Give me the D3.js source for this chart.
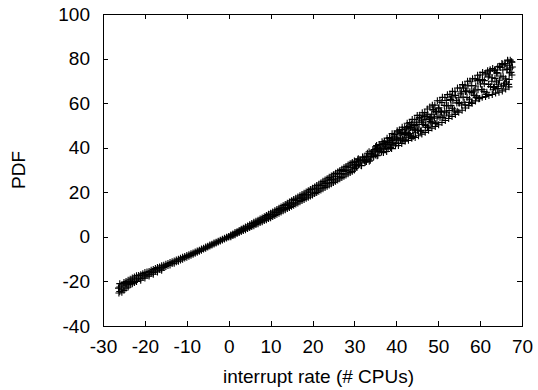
<!DOCTYPE html>
<html>
<head>
<meta charset="utf-8">
<script src="https://cdn.jsdelivr.net/npm/d3@7"></script>
<style>
  body { margin: 0; background: #fff; }
  svg { display: block; }
  text { font-family: "Liberation Sans", Arial, Helvetica, sans-serif; fill: #000; }
</style>
</head>
<body>
<div id="chart"></div>
<script>
// axis ticks
const xTicks = [-30, -20, -10, 0, 10, 20, 30, 40, 50, 60, 70];
const yTicks = [-40, -20, 0, 20, 40, 60, 80, 100];

// points, [interrupt rate, PDF]
const lowBand = [
    [-26.3, -23], [-26.2, -25.2], [-26, -24.5], [-26, -22.5], [-26, -21], [-25.5, -23.5], [-25.5, -21.5], [-25.5, -24.8],
    [-25, -22], [-25, -20.5], [-25, -24], [-24.5, -23], [-24.5, -21], [-24.5, -20],
    [-24, -21.5], [-24, -19.5], [-24, -22.5], [-23.5, -20.5], [-23.5, -19], [-23.5, -21.5],
    [-23, -20], [-23, -18.5], [-23, -21], [-22.5, -19.5], [-22.5, -18], [-22.5, -20.5],
    [-22, -19], [-22, -17.5], [-22, -20], [-21.5, -18.5], [-21.5, -17.3],
    [-21, -18.8], [-21, -17], [-21, -19.5], [-20.5, -18], [-20.5, -16.5],
    [-20, -17.5], [-20, -16], [-20, -18.5], [-19.5, -17], [-19.5, -15.8],
    [-19, -16.8], [-19, -15.5], [-19, -17.6], [-18.5, -16.2], [-18.5, -15],
    [-18, -16], [-18, -14.6], [-18, -16.8], [-17.5, -15.4], [-17.5, -14.2],
    [-17, -15], [-17, -13.8], [-17, -15.8], [-16.5, -14.5], [-16.5, -13.5],
    [-16, -14.3], [-16, -13], [-16, -15], [-15.5, -13.7], [-15.5, -12.7],
    [-15, -13.3], [-15, -12.3], [-14.5, -12.8], [-14.5, -12], [-14, -12.6], [-14, -11.5],
    [-13.5, -12], [-13.5, -11.2], [-13, -11.8], [-13, -10.8], [-12.5, -11.2], [-12.5, -10.4],
    [-12, -10.9], [-12, -10], [-11.5, -10.4], [-11.5, -9.6], [-11, -10], [-11, -9.2],
    [-10.5, -9.5], [-10.5, -8.8], [-10, -9.1], [-10, -8.4], [-9.5, -8.7], [-9.5, -8],
    [-9, -8.3], [-9, -7.6], [-8.5, -7.8], [-8.5, -7.2], [-8, -7.4], [-8, -6.8],
    [-7.5, -6.9], [-7.5, -6.4], [-7, -6.5], [-7, -6], [-6.5, -6], [-6.5, -5.5],
    [-6, -5.5], [-6, -5.1], [-5.5, -5.1], [-5.5, -4.6], [-5, -4.6], [-5, -4.2],
    [-4.5, -4.1], [-4.5, -3.7], [-4, -3.7], [-4, -3.3], [-3.5, -3.2], [-3.5, -2.8],
    [-3, -2.8], [-3, -2.4], [-2.5, -2.3], [-2.5, -2], [-2, -1.9], [-2, -1.5],
    [-1.5, -1.4], [-1.5, -1.1], [-1, -1], [-1, -0.6], [-0.5, -0.5], [-0.5, -0.2],
    [0, -0.1], [0, 0.2]
];

const midBand = [
    [0.5, 0.1], [0.5, 0.8], [0.5, 0.5], [1, 0.6], [1, 1.3], [1, 1.0], [1.5, 1.0], [1.5, 1.9], [1.5, 1.3],
    [2, 1.5], [2, 2.3], [2, 2.0], [2.5, 1.9], [2.5, 2.9], [2.5, 2.3], [3, 2.4], [3, 3.4], [3, 3.0],
    [3.5, 2.8], [3.5, 3.9], [3.5, 3.4], [4, 3.2], [4, 4.4], [4, 3.8], [4.5, 3.7], [4.5, 4.9], [4.5, 4.5],
    [5, 4.2], [5, 5.4], [5, 4.7], [5.5, 4.6], [5.5, 6.0], [5.5, 5.1], [6, 5.0], [6, 6.5], [6, 5.9],
    [6.5, 5.5], [6.5, 7.0], [6.5, 6.0], [7, 5.9], [7, 7.5], [7, 6.9], [7.5, 6.4], [7.5, 8.0], [7.5, 7.1],
    [8, 6.8], [8, 8.5], [8, 7.8], [8.5, 7.3], [8.5, 9.0], [8.5, 8.0], [9, 7.7], [9, 9.6], [9, 8.8],
    [9.5, 8.2], [9.5, 10.1], [9.5, 9.0], [10, 8.6], [10, 10.6], [10, 9.8], [10.5, 9.1], [10.5, 11.2], [10.5, 10.0],
    [11, 9.6], [11, 11.7], [11, 10.9], [11.5, 10.1], [11.5, 12.3], [11.5, 11.0], [12, 10.6], [12, 12.8], [12, 12.0],
    [12.5, 11.2], [12.5, 13.4], [12.5, 12.1], [13, 11.7], [13, 14.0], [13, 13.0], [13.5, 12.2], [13.5, 14.5], [13.5, 13.2],
    [14, 12.7], [14, 15.1], [14, 14.0], [14.5, 13.2], [14.5, 15.6], [14.5, 14.6], [15, 13.7], [15, 16.2], [15, 14.8],
    [15.5, 14.2], [15.5, 16.8], [15.5, 15.3], [16, 14.7], [16, 17.3], [16, 16.3], [16.5, 15.2], [16.5, 17.9], [16.5, 16.4],
    [17, 15.8], [17, 18.4], [17, 17.3], [17.5, 16.3], [17.5, 19.0], [17.5, 17.5], [18, 16.8], [18, 19.6], [18, 18.4],
    [18.5, 17.3], [18.5, 20.1], [18.5, 18.9], [19, 17.8], [19, 20.7], [19, 19.1], [19.5, 18.3], [19.5, 21.3], [19.5, 20.0],
    [20, 18.8], [20, 21.8], [20, 20.1], [20.5, 19.4], [20.5, 22.4], [20.5, 21.1], [21, 19.9], [21, 23.0], [21, 21.6],
    [21.5, 20.5], [21.5, 23.6], [21.5, 21.9], [22, 21.0], [22, 24.2], [22, 22.9], [22.5, 21.6], [22.5, 24.9], [22.5, 23.1],
    [23, 22.2], [23, 25.5], [23, 24.0], [23.5, 22.7], [23.5, 26.1], [23.5, 24.3], [24, 23.3], [24, 26.7], [24, 25.2],
    [24.5, 23.8], [24.5, 27.3], [24.5, 25.7], [25, 24.4], [25, 27.9], [25, 26.0], [25.5, 25.0], [25.5, 28.5], [25.5, 26.9],
    [26, 25.5], [26, 29.1], [26, 27.2], [26.5, 26.1], [26.5, 29.7], [26.5, 28.1], [27, 26.6], [27, 30.3], [27, 28.4],
    [27.5, 27.2], [27.5, 31.0], [27.5, 29.3], [28, 27.8], [28, 31.6], [28, 29.8], [28.5, 28.3], [28.5, 32.2], [28.5, 30.1],
    [29, 28.9], [29, 32.8], [29, 31.0], [29.5, 29.4], [29.5, 33.4], [29.5, 31.3], [30, 30.0], [30, 34.0], [30, 32.2]
];

const highBand = [
    [30.1, 30.6], [30.45, 33.6], [30.55, 32.3], [30.93, 35.0], [31.0, 32.2], [31.38, 34.1], [31.6, 32.0],
    [31.95, 35.8], [32.05, 34.4], [32.43, 34.0], [32.5, 35.8], [32.88, 33.8], [33.1, 37.5], [33.45, 35.8],
    [33.55, 33.9], [33.93, 37.3], [34.0, 36.0], [34.38, 38.6], [34.6, 36.0], [34.95, 38.1], [35.05, 40.4],
    [35.43, 36.4], [35.5, 39.7], [35.88, 38.4], [36.1, 41.4], [36.45, 38.3], [36.55, 40.2], [36.93, 37.8],
    [37.0, 42.0], [37.38, 40.7], [37.6, 39.8], [37.95, 42.4], [38.05, 39.5], [38.43, 44.1], [38.5, 41.7],
    [38.88, 39.6], [39.1, 43.5], [39.45, 42.2], [39.55, 44.9], [39.93, 41.9], [40.0, 44.0], [40.38, 47.1],
    [40.6, 42.0], [40.95, 46.3], [41.05, 44.3], [41.43, 48.1], [41.5, 43.9], [41.88, 46.5], [42.1, 43.4],
    [42.45, 48.8], [42.55, 46.7], [42.93, 45.8], [43.0, 48.5], [43.38, 45.4], [43.6, 50.5], [43.95, 48.0],
    [44.05, 45.1], [44.43, 49.9], [44.5, 47.9], [44.88, 51.4], [45.1, 47.6], [45.45, 50.4], [45.55, 53.6],
    [45.93, 47.8], [46.0, 52.4], [46.38, 50.4], [46.6, 54.6], [46.95, 50.0], [47.05, 52.6], [47.43, 49.1],
    [47.5, 55.0], [47.88, 52.9], [48.1, 51.7], [48.45, 55.0], [48.55, 51.1], [48.93, 57.1], [49.0, 53.8],
    [49.38, 50.8], [49.6, 56.0], [49.95, 54.1], [50.05, 57.7], [50.43, 53.5], [50.5, 56.3], [50.88, 60.3],
    [51.1, 53.5], [51.45, 59.0], [51.55, 56.4], [51.93, 61.2], [52.0, 55.7], [52.38, 58.9], [52.6, 54.7],
    [52.95, 61.7], [53.05, 58.9], [53.43, 57.7], [53.5, 61.1], [53.88, 56.9], [54.1, 63.5], [54.45, 60.1],
    [54.55, 56.4], [54.93, 62.4], [55.0, 59.9], [55.38, 64.2], [55.6, 59.2], [55.95, 62.7], [56.05, 66.8],
    [56.43, 59.3], [56.5, 65.2], [56.88, 62.5], [57.1, 67.7], [57.45, 61.8], [57.55, 65.1], [57.93, 60.4],
    [58.0, 67.9], [58.38, 65.1], [58.6, 63.5], [58.95, 67.7], [59.05, 62.6], [59.43, 70.1], [59.5, 66.0],
    [59.88, 62.1], [60.1, 68.6], [60.45, 66.1], [60.55, 70.6], [60.93, 65.2], [61.0, 68.7], [61.38, 73.5],
    [61.6, 64.9], [61.95, 71.8], [62.05, 68.4], [62.43, 74.4], [62.5, 67.4], [62.88, 71.4], [63.1, 66.0],
    [63.45, 74.6], [63.55, 71.1], [63.93, 69.5], [64.0, 73.7], [64.38, 68.5], [64.6, 76.5], [64.95, 72.2],
    [65.05, 67.6], [65.43, 74.9], [65.5, 71.8], [65.88, 77.1], [66.1, 70.9], [66.45, 75.1], [66.55, 79.3],
    [66.93, 70.6], [67.0, 77.0], [67.38, 73.8], [67.5, 78.6], [67.6, 72.6], [67.3, 75.8], [67.7, 76.2]
];

const highFill = [
    [30.2, 32.5], [30.5, 31.4], [30.8, 34.6], [31.1, 32.7], [31.4, 34.5], [31.7, 31.9], [32.0, 35.7],
    [32.3, 34.5], [32.6, 33.5], [32.9, 36.1], [33.2, 34.9], [33.5, 38.2], [33.8, 34.4], [34.1, 37.3],
    [34.4, 36.7], [34.7, 39.2], [35.0, 36.7], [35.3, 39.5], [35.6, 36.6], [35.9, 38.9], [36.2, 39.5],
    [36.5, 38.1], [36.8, 42.0], [37.1, 39.5], [37.4, 41.7], [37.7, 38.3], [38.0, 43.0], [38.3, 41.4],
    [38.6, 40.1], [38.9, 43.3], [39.2, 41.6], [39.5, 45.7], [39.8, 40.9], [40.1, 44.4], [40.4, 43.6],
    [40.7, 46.6], [41.0, 43.4], [41.3, 46.7], [41.6, 43.1], [41.9, 45.9], [42.2, 46.6], [42.5, 44.7],
    [42.8, 49.5], [43.1, 46.4], [43.4, 49.0], [43.7, 44.8], [44.0, 50.3], [44.3, 48.4], [44.6, 46.7],
    [44.9, 50.4], [45.2, 48.4], [45.5, 53.2], [45.8, 47.4], [46.1, 51.5], [46.4, 50.5], [46.7, 54.0],
    [47.0, 50.1], [47.3, 54.0], [47.6, 49.7], [47.9, 52.9], [48.2, 53.6], [48.5, 51.4], [48.8, 56.9],
    [49.1, 53.2], [49.4, 56.2], [49.7, 51.2], [50.2, 57.9], [50.8, 55.9], [51.4, 54.2], [52.0, 58.9],
    [52.6, 56.7], [53.2, 62.8], [53.8, 56.0], [54.4, 61.3], [55.0, 60.3], [55.6, 65.0], [56.2, 60.4],
    [56.8, 65.5], [57.4, 60.3], [58.0, 64.7], [58.6, 65.8], [59.2, 63.2], [59.8, 70.6], [60.4, 66.0],
    [61.0, 70.1], [61.6, 63.9], [62.2, 72.6], [62.8, 69.8], [63.4, 67.4], [64.0, 73.2], [64.6, 70.3],
    [65.2, 77.8], [65.8, 68.9], [66.4, 75.3], [67.0, 73.6],
    [63.2, 67.0], [64.2, 66.5], [65.6, 68.0], [66.3, 69.5], [66.8, 68.4]
];

// upper and lower fringes of the wide part of the cloud
const highUpper = [
    [35.3, 41.0], [35.9, 41.3], [36.6, 42.7], [37.2, 42.8], [37.8, 44.3], [38.4, 44.6], [39.0, 46.3],
    [39.6, 46.0], [40.2, 47.6], [40.8, 48.0], [41.4, 49.2], [42.0, 49.2], [42.6, 51.0], [43.2, 51.3],
    [43.8, 52.7], [44.4, 52.6], [45.0, 54.5], [45.6, 54.6], [46.2, 55.7], [46.8, 55.8], [47.4, 57.4],
    [48.0, 58.3], [48.6, 59.1], [49.2, 59.1], [49.8, 61.1], [50.4, 61.1], [51.0, 62.6], [51.6, 62.5],
    [52.2, 63.8], [52.8, 64.0], [53.4, 65.3], [54.0, 65.1], [54.6, 66.8], [55.2, 66.8], [55.8, 68.3],
    [56.4, 68.1], [57.0, 69.8], [57.6, 69.9], [58.2, 70.9], [58.8, 71.0], [59.4, 72.5], [60.0, 72.6],
    [60.6, 73.8], [61.2, 73.1], [61.8, 74.5], [62.4, 75.0], [63.0, 75.5], [63.6, 74.9], [64.2, 76.3],
    [64.8, 76.0], [65.4, 77.4], [66.0, 77.8], [66.6, 78.9], [67.2, 79.3], [67.6, 78.4]
];

const highLower = [
    [40.5, 41.0], [41.3, 41.9], [42.1, 42.9], [42.9, 43.3], [43.7, 44.2], [44.5, 44.6], [45.3, 45.4],
    [46.1, 46.1], [46.9, 46.9], [47.7, 47.8], [48.5, 48.8], [49.3, 49.5], [50.1, 50.3], [50.9, 51.3],
    [51.7, 52.2], [52.5, 53.1], [53.3, 54.0], [54.1, 54.9], [54.9, 55.9], [55.7, 56.8], [56.5, 57.8],
    [57.3, 58.9], [58.1, 59.9], [58.9, 61.0], [59.7, 62.0], [60.5, 62.6], [61.3, 63.0], [62.1, 63.4],
    [62.9, 63.9], [63.7, 64.5], [64.5, 64.9], [65.3, 65.5], [66.1, 66.3], [66.9, 67.3]
];

const width = 538, height = 390;
const margin = { top: 14, right: 16, bottom: 64, left: 103 };

const svg = d3.select('#chart')
    .append('svg')
    .attr('width', width)
    .attr('height', height);

const x = d3.scaleLinear()
    .domain([-30, 70])
    .range([margin.left, width - margin.right]);

const y = d3.scaleLinear()
    .domain([-40, 100])
    .range([height - margin.bottom, margin.top]);

// axes, gnuplot style: inward ticks mirrored on all sides
const tickLen = 5;
const fontSize = 19;
const plain = d => String(d);   // hyphen minus, not the unicode one

const axisGroup = (axis, tx, ty) => {
    const g = svg.append('g')
        .attr('transform', `translate(${tx},${ty})`)
        .call(axis);
    g.select('.domain').remove();
    g.selectAll('line').attr('stroke', '#000').attr('shape-rendering', 'crispEdges');
    g.selectAll('text').attr('font-size', fontSize).attr('font-family', null);
    return g;
};

axisGroup(d3.axisBottom(x).tickValues(xTicks).tickSize(-tickLen).tickPadding(14).tickFormat(plain), 0, y(-40));
axisGroup(d3.axisTop(x).tickValues(xTicks).tickSize(-tickLen).tickFormat(''), 0, y(100));
axisGroup(d3.axisLeft(y).tickValues(yTicks).tickSize(-tickLen).tickPadding(13).tickFormat(plain), x(-30), 0);
axisGroup(d3.axisRight(y).tickValues(yTicks).tickSize(-tickLen).tickFormat(''), x(70), 0);

svg.append('rect')
    .attr('x', x(-30))
    .attr('y', y(100))
    .attr('width', x(70) - x(-30))
    .attr('height', y(-40) - y(100))
    .attr('fill', 'none')
    .attr('stroke', '#000')
    .attr('shape-rendering', 'crispEdges');

// data points as '+' marks
const allPoints = lowBand.concat(midBand, highBand, highFill, highUpper, highLower);
const cross = 'M-3.5,0H3.5M0,-3.5V3.5';

svg.append('g')
    .attr('stroke', '#000')
    .attr('stroke-width', 1.1)
    .attr('fill', 'none')
    .selectAll('path')
    .data(allPoints)
    .join('path')
    .attr('d', cross)
    .attr('transform', d => `translate(${x(d[0])},${y(d[1])})`);

// axis labels
svg.append('text')
    .attr('x', (x(-30) + x(70)) / 2 + 6)
    .attr('y', 383)
    .attr('text-anchor', 'middle')
    .attr('font-size', fontSize)
    .text('interrupt rate (# CPUs)');

svg.append('text')
    .attr('transform', `translate(25,${(y(-40) + y(100)) / 2}) rotate(-90)`)
    .attr('text-anchor', 'middle')
    .attr('font-size', fontSize)
    .text('PDF');
</script>
</body>
</html>
